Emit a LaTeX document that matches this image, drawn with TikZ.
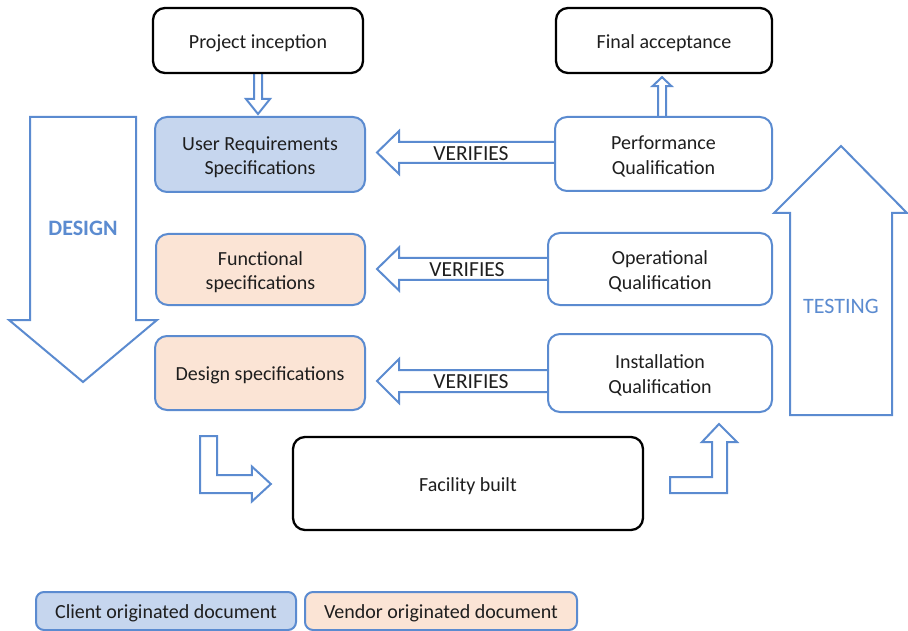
\documentclass[tikz,border=0pt]{standalone}
\usepackage{fontspec}
\setmainfont{Carlito}
\usetikzlibrary{calc}

\definecolor{lineblue}{HTML}{5B8BD0}
\definecolor{clientfill}{HTML}{C6D6EE}
\definecolor{vendorfill}{HTML}{FBE4D5}
\definecolor{inktext}{HTML}{1E1E1E}
\newcommand\diagfont{\fontsize{20}{24.5}\selectfont}

\pgfdeclarelayer{back}
\pgfsetlayers{back,main}

\tikzset{
  box/.style={draw=black, line width=2.3pt, rounded corners=12pt, fill=white,
    inner sep=0pt},
  txt/.style={label={[text=inktext, font=\diagfont, align=center, inner sep=0pt,
    yshift=-2.5pt]center:#1}},
  bluebox/.style={box, draw=lineblue, line width=2pt},
  clientbox/.style={bluebox, fill=clientfill},
  vendorbox/.style={bluebox, fill=vendorfill},
  arr/.style={draw=lineblue, line width=2pt, fill=white, line join=miter},
  verlabel/.style={text=inktext, font=\fontsize{21.5}{24}\selectfont, inner sep=0pt},
  phaselabel/.style={text=lineblue, font=\fontsize{22}{26}\selectfont, inner sep=0pt}
}

\begin{document}
\begin{tikzpicture}[x=1pt, y=-1pt]
\useasboundingbox (0,0) rectangle (908,631);

% big phase arrows
\draw[arr] (30,117) -- (136,117) -- (136,320) -- (157,320) -- (83,382)
  -- (9,320) -- (30,320) -- cycle;
\node[phaselabel, font=\bfseries\fontsize{22}{26}\selectfont] (design) at (83,228) {DESIGN};

\draw[arr] (790,415) -- (790,213) -- (774,213) -- (841,146) -- (907,213)
  -- (892,213) -- (892,415) -- cycle;
\node[phaselabel] (testing) at (841,306) {TESTING};

% boxes
\node[box, minimum width=210pt, minimum height=65pt, txt={Project inception}] (pi) at (258,40.5) {};
\node[box, minimum width=216pt, minimum height=65pt, txt={Final acceptance}] (fa) at (664,40.5) {};

\node[clientbox, minimum width=210pt, minimum height=75pt,
  txt={User Requirements\\Specifications}] (urs) at (260,154.5) {};
\node[vendorbox, minimum width=209pt, minimum height=71pt,
  txt={Functional\\specifications}] (fs) at (260.5,269.5) {};
\node[vendorbox, minimum width=210pt, minimum height=74pt,
  txt={Design specifications}] (ds) at (260,373) {};

\node[bluebox, minimum width=217pt, minimum height=74pt,
  txt={Performance\\Qualification}] (pq) at (663.5,154) {};
\node[bluebox, minimum width=224pt, minimum height=72pt,
  txt={Operational\\Qualification}] (oq) at (660,269) {};
\node[bluebox, minimum width=224pt, minimum height=78pt,
  txt={Installation\\Qualification}] (iq) at (660,373) {};

\node[box, minimum width=350pt, minimum height=93pt, txt={Facility built}] (fb) at (468,483.5) {};

% legend
\node[clientbox, rounded corners=8pt, minimum width=260pt, minimum height=38pt,
  txt={Client originated document}] (lc) at (166,611) {};
\node[vendorbox, rounded corners=8pt, minimum width=272pt, minimum height=38pt,
  txt={Vendor originated document}] (lv) at (441,611) {};

% hollow arrows between the boxes, kept behind the box borders
\begin{pgfonlayer}{back}
% project inception -> user requirements
\coordinate (t1) at ($(pi.south |- urs.north)+(0,-2)$);
\draw[arr] ($(pi.south)+(-4,0)$) -- ($(t1)+(-4,-15)$) -- ($(t1)+(-12,-15)$) -- (t1)
  -- ($(t1)+(12,-15)$) -- ($(t1)+(4,-15)$) -- ($(pi.south)+(4,0)$);

% performance qualification -> final acceptance
\coordinate (t2) at (662,0 |- pq.north);
\coordinate (t2tip) at ($(662,0 |- fa.south)+(0,3)$);
\draw[arr] ($(t2)+(-4,0)$) -- ($(t2tip)+(-4,9)$) -- ($(t2tip)+(-9.5,9)$) -- (t2tip)
  -- ($(t2tip)+(9.5,9)$) -- ($(t2tip)+(4,9)$) -- ($(t2)+(4,0)$);

% VERIFIES arrows
\coordinate (v1) at ($(urs.east)+(11,-2)$);
\coordinate (s1) at (pq.west |- v1);
\draw[arr] ($(s1)+(0,-10.5)$) -- ($(v1)+(22,-10.5)$) -- ($(v1)+(22,-21.5)$) -- (v1)
  -- ($(v1)+(22,21.5)$) -- ($(v1)+(22,10.5)$) -- ($(s1)+(0,10.5)$);

\coordinate (v2) at ($(fs.east)+(11,-0.5)$);
\coordinate (s2) at (oq.west |- v2);
\draw[arr] ($(s2)+(0,-11)$) -- ($(v2)+(22,-11)$) -- ($(v2)+(22,-21.5)$) -- (v2)
  -- ($(v2)+(22,21.5)$) -- ($(v2)+(22,11)$) -- ($(s2)+(0,11)$);

\coordinate (v3) at ($(ds.east)+(11,8)$);
\coordinate (s3) at (iq.west |- v3);
\draw[arr] ($(s3)+(0,-11)$) -- ($(v3)+(22,-11)$) -- ($(v3)+(22,-22)$) -- (v3)
  -- ($(v3)+(22,22)$) -- ($(v3)+(22,11)$) -- ($(s3)+(0,11)$);
\end{pgfonlayer}

\node[verlabel] (ver1) at (471,154) {VERIFIES};
\node[verlabel] (ver2) at (467,270) {VERIFIES};
\node[verlabel] (ver3) at (471,382) {VERIFIES};

% design specifications -> facility built
\coordinate (l0) at ($(ds.south west)+(46,25)$);
\coordinate (lt) at ($(fb.west)+(-21,0.5)$);
\draw[arr] (l0) -- ++(17,0) |- ($(lt)+(-19,-9)$) -- ++(0,-8.5) -- (lt)
  -- ($(lt)+(-19,17.5)$) -- ++(0,-8.5) -| (l0) -- cycle;

% facility built -> installation qualification
\coordinate (r0) at ($(fb.east)+(26,-6.5)$);
\coordinate (rt) at ($(iq.south)+(59,11)$);
\draw[arr] (r0) -| ($(rt)+(-7,18)$) -- ++(-10,0) -- (rt) -- ($(rt)+(18,18)$)
  -- ++(-10,0) |- ($(r0)+(0,16)$) -- cycle;
\end{tikzpicture}
\end{document}
